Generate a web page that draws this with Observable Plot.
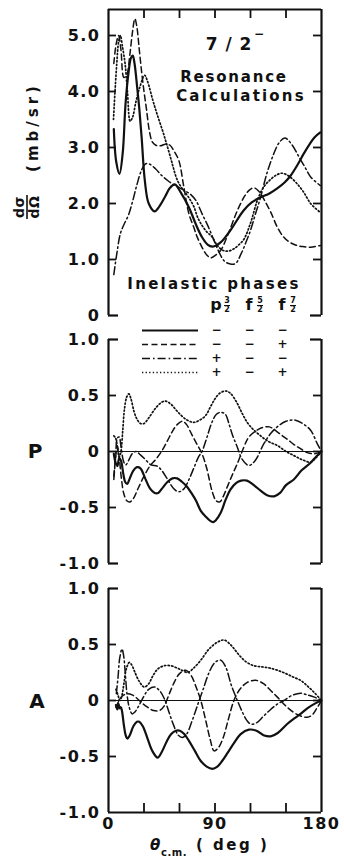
<!DOCTYPE html>
<html><head><meta charset="utf-8">
<script src="https://cdn.jsdelivr.net/npm/d3@7"></script>
<script src="https://cdn.jsdelivr.net/npm/@observablehq/plot@0.6"></script>
<style>
body{margin:0;background:#fff;}
#wrap{position:relative;width:344px;height:865px;overflow:hidden;background:#fff;}
#wrap svg{position:absolute;left:0;background:transparent;overflow:visible;}
</style></head><body><div id="wrap"></div>
<script>
// ---------- data ----------
const seriesNames = ["solid", "dashed", "dashdot", "dotted"];
const angleDomain = [0, 180];
const angleTicks = [0, 30, 60, 90, 120, 150, 180];
const angleLabels = [0, 90, 180];
const csTicks = [0, 1, 2, 3, 4, 5];
const csTop = 5.464;
const polTicks = [-1, -0.5, 0, 0.5, 1];

const titleLines = ["7 / 2", "Resonance", "Calculations"];
const titleSup = "−";
const yLabelNum = "dσ", yLabelDen = "dΩ", yLabelUnit = "(mb/sr)";
const pLabel = "P", aLabel = "A";
const xLabelMain = "θ", xLabelSub = "c.m.", xLabelUnit = "( deg )";
const legendTitle = "Inelastic phases";
const phaseLetters = ["p", "f", "f"];
const phaseNum = ["3", "5", "7"];
const phaseDen = ["2", "2", "2"];
const phaseCols = ["p3/2", "f5/2", "f7/2"];
const signP32 = ["−", "−", "+", "+"];
const signF52 = ["−", "−", "−", "−"];
const signF72 = ["−", "+", "−", "+"];

// Cross section dσ/dΩ (mb/sr) vs θc.m. (deg)
const csSolid = [[4.5,3.33],[6.5,2.75],[9.3,2.53],[12,2.9],[14.4,3.78],[17,4.35],[19,4.6],[20.5,4.64],[22,4.5],[24.2,4.08],[26,3.7],[28,3.18],[30.7,2.41],[34,2.0],[39,1.86],[43,1.95],[48,2.13],[52,2.28],[56,2.34],[61,2.2],[68,1.93],[74,1.62],[79,1.40],[84,1.26],[88,1.23],[95,1.31],[103,1.52],[114,1.87],[121,2.02],[128.5,2.11],[136,2.18],[142.6,2.27],[149,2.38],[154,2.5],[160,2.7],[165,2.89],[170,3.06],[174,3.18],[179,3.27]];
const csDashed = [[4.5,4.5],[6.5,4.85],[8.5,5.0],[10.5,4.75],[13,4.25],[15.5,4.3],[18,4.65],[20.2,5.05],[22.3,5.3],[24,5.15],[26,4.75],[28,4.35],[30,4.0],[32,3.7],[34.5,3.3],[37,3.1],[40,3.04],[44,3.03],[48,3.06],[52,3.04],[55,2.95],[59.4,2.77],[63.7,2.29],[67.9,1.82],[72,1.58],[75,1.40],[80,1.18],[83.5,1.07],[86.5,1.03],[90,1.07],[94.7,1.16],[101,1.45],[108.8,1.87],[115,2.13],[119,2.24],[122.8,2.28],[127,2.22],[132,2.05],[137,1.85],[142.6,1.58],[148,1.4],[153,1.31],[158,1.26],[164,1.23],[170.8,1.22],[179,1.25]];
const csDashDot = [[4.5,0.73],[7,1.1],[10,1.46],[13,1.62],[17,1.8],[20.5,2.05],[24.2,2.35],[28,2.6],[31.5,2.71],[35,2.7],[39.7,2.62],[45,2.5],[50,2.41],[54,2.35],[60,2.28],[66,2.21],[70,2.15],[74,2.05],[79,1.82],[84,1.6],[88,1.40],[93,1.15],[98,0.97],[103,0.92],[107.4,0.93],[112,1.1],[116,1.3],[120,1.52],[124,1.8],[128.5,2.11],[134,2.55],[139.7,2.89],[144,3.08],[149,3.17],[155,3.05],[161,2.83],[166,2.65],[171,2.47],[179,2.32]];
const csDotted = [[4.2,3.5],[5.5,4.0],[7,4.5],[8.5,4.88],[10,5.0],[11.8,4.8],[14,4.5],[16,4.0],[18.3,3.47],[20.5,3.55],[23,3.8],[26.5,4.08],[30.5,4.29],[33,4.18],[37.5,3.84],[41,3.6],[46,3.28],[50,3.0],[54,2.7],[57,2.48],[60,2.34],[64,2.22],[68,2.1],[72,1.95],[76,1.72],[82,1.52],[87.6,1.40],[92,1.25],[97,1.16],[101,1.15],[106,1.19],[110,1.26],[114.4,1.36],[120,1.65],[125.7,2.05],[131,2.29],[137,2.43],[142,2.51],[146.8,2.54],[153,2.48],[159.5,2.35],[165,2.2],[170.8,2.0],[179,1.84]];

// Polarization P
const pSolid = [[4.5,-0.02],[6,-0.1],[7.5,-0.13],[9,-0.06],[10.5,-0.08],[12.5,-0.2],[14,-0.27],[15.8,-0.29],[18,-0.24],[21,-0.17],[24,-0.14],[27,-0.15],[31,-0.24],[35,-0.33],[39,-0.37],[42,-0.37],[46,-0.32],[50,-0.27],[54,-0.24],[58,-0.24],[62,-0.27],[66,-0.31],[70,-0.37],[74,-0.44],[78,-0.53],[82,-0.58],[86,-0.62],[88.5,-0.63],[91,-0.61],[94.7,-0.55],[99,-0.43],[103,-0.34],[108,-0.28],[112,-0.26],[117,-0.26],[122.8,-0.3],[128.5,-0.35],[134,-0.39],[140,-0.4],[145,-0.37],[150,-0.3],[156.6,-0.25],[163,-0.17],[170.8,-0.1],[176,-0.04],[180,0]];
const pDashed = [[4.5,-0.22],[6,-0.05],[7.5,0.05],[9,-0.05],[11,-0.25],[13,-0.38],[15.5,-0.44],[18,-0.45],[21,-0.42],[25,-0.33],[30,-0.22],[35,-0.13],[40,-0.07],[45.4,0.01],[50,0.1],[54,0.18],[58,0.24],[62.5,0.27],[66,0.24],[70,0.16],[74,0.08],[79,-0.02],[83,-0.15],[87.7,-0.36],[91,-0.44],[94,-0.45],[97,-0.4],[101,-0.3],[105,-0.2],[108.8,-0.11],[114.4,0.04],[118,0.12],[122.8,0.17],[129,0.21],[136,0.22],[142,0.18],[147,0.14],[151,0.11],[157,0.06],[163,0.02],[168,-0.01],[174,-0.02],[180,0]];
const pDashDot = [[4.5,-0.25],[6,-0.05],[7.5,0.12],[9,0.13],[10.5,0.05],[12.5,-0.08],[14.5,-0.12],[17,-0.08],[20,-0.02],[23,0.0],[27,-0.03],[31,-0.07],[36,-0.12],[41,-0.13],[45,-0.17],[50,-0.25],[55,-0.33],[59.5,-0.36],[64,-0.33],[68,-0.25],[72,-0.15],[76,-0.05],[79,0.0],[83,0.12],[87,0.25],[91,0.33],[95,0.35],[98.9,0.33],[102,0.24],[105,0.14],[108.8,0.04],[113,-0.07],[118.6,-0.125],[124,-0.08],[131.3,0.07],[137,0.16],[142.6,0.22],[150,0.27],[158,0.28],[164,0.25],[170.8,0.19],[176.4,0.07],[180,0]];
const pDotted = [[4.5,0.14],[6,0.12],[7.5,0.04],[9,-0.05],[10.5,0.0],[12,0.18],[13.5,0.38],[15.5,0.49],[17.2,0.515],[19,0.47],[21.5,0.36],[24,0.29],[27,0.25],[30,0.25],[34,0.3],[40,0.39],[45,0.44],[48.2,0.45],[53,0.42],[58,0.36],[65,0.29],[72,0.26],[77,0.28],[82,0.32],[86.2,0.4],[90,0.47],[94,0.52],[98.9,0.54],[103,0.52],[108.8,0.43],[113,0.34],[117.2,0.26],[122,0.2],[128.5,0.14],[135,0.09],[142.6,0.054],[150,0.0],[156.6,-0.036],[163,-0.07],[170.8,-0.095],[175,-0.06],[180,0]];

// Analyzing power A
const aSolid = [[6.3,-0.04],[7.5,-0.08],[8.5,-0.03],[9.5,-0.07],[10.5,-0.06],[11.5,-0.1],[13,-0.22],[14.5,-0.31],[16,-0.34],[18,-0.31],[21,-0.23],[24,-0.19],[26,-0.19],[29,-0.23],[33,-0.34],[37,-0.45],[41.5,-0.51],[45,-0.46],[49,-0.37],[53,-0.3],[57,-0.27],[60.3,-0.27],[64,-0.3],[68,-0.36],[73,-0.45],[78,-0.54],[83,-0.59],[87.8,-0.61],[92,-0.59],[96,-0.54],[100.5,-0.47],[106,-0.38],[111.7,-0.3],[118.7,-0.26],[125,-0.27],[131,-0.31],[137,-0.32],[143,-0.29],[151,-0.21],[157,-0.16],[162.3,-0.12],[168,-0.07],[174,-0.03],[180,0]];
const aDashed = [[6.3,-0.06],[8,-0.02],[10,0.02],[13,0.05],[16,0.06],[20,0.05],[24,0.02],[28,-0.02],[33,-0.06],[38,-0.09],[43,-0.09],[47,-0.05],[51,0.05],[55,0.15],[60,0.24],[65.3,0.27],[70,0.22],[74,0.12],[78,0.0],[82,-0.17],[86,-0.35],[89.2,-0.45],[93,-0.42],[97,-0.33],[101,-0.18],[106,0.0],[111,0.1],[117,0.16],[124.4,0.18],[131,0.15],[137,0.09],[142.7,0.03],[150,-0.05],[157,-0.11],[163,-0.14],[168,-0.15],[172,-0.13],[176,-0.07],[180,0]];
const aDashDot = [[6.6,0.06],[8,0.2],[9.5,0.38],[11.4,0.46],[12.8,0.4],[14.2,0.24],[15.6,0.06],[17.5,-0.06],[20,-0.12],[22.5,-0.1],[26,-0.04],[30,0.04],[34,0.1],[39,0.12],[43,0.09],[47,0.02],[51,-0.1],[55,-0.22],[59,-0.31],[62.5,-0.33],[66,-0.3],[70,-0.2],[74,-0.08],[76.6,0.0],[80,0.1],[85,0.25],[90,0.34],[94.9,0.36],[99,0.3],[104,0.13],[108.9,0.0],[113,-0.1],[117,-0.18],[120.2,-0.21],[125,-0.2],[131,-0.14],[137,-0.08],[143,-0.03],[148.2,0.0],[155,0.045],[162.3,0.065],[168,0.05],[174,0.03],[180,0]];
const aDotted = [[6.3,0.1],[8,0.05],[9.5,0.0],[11,0.03],[13,0.15],[15,0.28],[17.6,0.34],[19.5,0.32],[22,0.26],[26,0.17],[30.2,0.12],[34,0.15],[37.5,0.22],[41.5,0.28],[47,0.31],[52.7,0.31],[58,0.29],[62,0.27],[66.8,0.25],[72,0.29],[78,0.36],[85,0.46],[92,0.52],[97.6,0.54],[103,0.5],[107,0.45],[111.7,0.39],[117,0.34],[123,0.31],[130,0.3],[136,0.29],[142.7,0.27],[150,0.24],[156,0.21],[162.3,0.18],[168,0.13],[174,0.07],[180,0]];

// ---------- layout / styles ----------
const W = 344, ML = 108, MR = 23;
const plotW = W - ML - MR;
const INK = "#111";
const FONT = "DejaVu Sans";
const lineStyles = {
  solid: {strokeWidth: 2.2},
  dashed: {strokeWidth: 1.5, strokeDasharray: "6,3.5"},
  dashdot: {strokeWidth: 1.5, strokeDasharray: "8,3,1.6,3"},
  dotted: {strokeWidth: 1.7, strokeDasharray: "1.3,2.3"}
};
const wrap = document.getElementById("wrap");

function curveMarks(map) {
  return seriesNames.map(n => Plot.line(map[n], {
    x: d => d[0], y: d => d[1], curve: "catmull-rom",
    stroke: INK, strokeLinejoin: "round", ...lineStyles[n]
  }));
}

function panel({top, height, mT, mB, yDomain, yTicks, yFmt, curves, zero, topFull, topTicks, bottomFull, bottomTicks, xAxis}) {
  const plotH = height - mT - mB;
  const marks = [];
  if (zero) marks.push(Plot.ruleY([0], {stroke: INK, strokeWidth: 1}));
  marks.push(...curves);
  marks.push(Plot.ruleX(angleDomain, {stroke: INK, strokeWidth: 2.2}));
  const innerY = yTicks.filter(t => t > yDomain[0] && t < yDomain[1]);
  marks.push(Plot.ruleY(innerY, {stroke: INK, strokeWidth: 1.8, insetRight: plotW - 8}));
  marks.push(Plot.ruleY(innerY, {stroke: INK, strokeWidth: 1.8, insetLeft: plotW - 8}));
  const innerX = angleTicks.filter(t => t > angleDomain[0] && t < angleDomain[1]);
  if (topFull) marks.push(Plot.ruleY([yDomain[1]], {stroke: INK, strokeWidth: 2.2}));
  else {
    marks.push(Plot.ruleY([yDomain[1]], {stroke: INK, strokeWidth: 2.2, insetRight: plotW - 10}));
    marks.push(Plot.ruleY([yDomain[1]], {stroke: INK, strokeWidth: 2.2, insetLeft: plotW - 11}));
  }
  if (topTicks) marks.push(Plot.ruleX(innerX, {stroke: INK, strokeWidth: 1.8, insetBottom: plotH - 9}));
  if (bottomFull) marks.push(Plot.ruleY([yDomain[0]], {stroke: INK, strokeWidth: 2.2}));
  else {
    marks.push(Plot.ruleY([yDomain[0]], {stroke: INK, strokeWidth: 2.2, insetRight: plotW - 10}));
    marks.push(Plot.ruleY([yDomain[0]], {stroke: INK, strokeWidth: 2.2, insetLeft: plotW - 11}));
  }
  if (bottomTicks) marks.push(Plot.ruleX(innerX, {stroke: INK, strokeWidth: 1.8, insetTop: plotH - 9}));
  const svg = Plot.plot({
    width: W, height, marginLeft: ML, marginRight: MR, marginTop: mT, marginBottom: mB,
    style: {fontFamily: FONT, fontSize: "16px", fontWeight: "bold", letterSpacing: "1.5px", background: "transparent", overflow: "visible", color: INK},
    x: xAxis ? {domain: angleDomain, ticks: angleLabels, tickSize: 0, tickPadding: 5, tickFormat: d => String(d), label: null}
             : {domain: angleDomain, axis: null},
    y: {domain: yDomain, ticks: yTicks, tickSize: 0, tickPadding: 8, tickFormat: yFmt, label: null},
    marks
  });
  svg.style.top = top + "px";
  wrap.appendChild(svg);
  return svg;
}

const fmt = d => d === 0 ? "0" : d.toFixed(1);

const p1 = panel({top: 0, height: 320, mT: 9, mB: 5, yDomain: [0, csTop], yTicks: csTicks, yFmt: fmt,
  curves: curveMarks({solid: csSolid, dashed: csDashed, dashdot: csDashDot, dotted: csDotted}),
  zero: false, topFull: true, topTicks: true, bottomFull: false, bottomTicks: false, xAxis: false});
const p2 = panel({top: 325, height: 243, mT: 14, mB: 5, yDomain: [-1, 1], yTicks: polTicks, yFmt: fmt,
  curves: curveMarks({solid: pSolid, dashed: pDashed, dashdot: pDashDot, dotted: pDotted}),
  zero: true, topFull: false, topTicks: false, bottomFull: false, bottomTicks: false, xAxis: false});
const p3 = panel({top: 575, height: 290, mT: 13, mB: 53, yDomain: [-1, 1], yTicks: polTicks, yFmt: fmt,
  curves: curveMarks({solid: aSolid, dashed: aDashed, dashdot: aDashDot, dotted: aDotted}),
  zero: true, topFull: false, topTicks: false, bottomFull: true, bottomTicks: true, xAxis: true});

// ---------- annotations ----------
function txt(sel, x, y, s, o = {}) {
  const t = sel.append("text").attr("x", x).attr("y", y).text(s)
    .attr("font-family", FONT).attr("font-weight", o.weight || "bold")
    .attr("font-size", o.size || 15).attr("fill", INK)
    .attr("text-anchor", o.anchor || "middle")
    .attr("letter-spacing", o.ls != null ? o.ls : 0);
  if (o.style) t.attr("font-style", o.style);
  return t;
}
const s1 = d3.select(p1);
txt(s1, 229, 50, titleLines[0], {size: 17, ls: 1});
txt(s1, 259, 38, titleSup, {size: 12});
txt(s1, 234, 82, titleLines[1], {size: 15, ls: 1.8});
txt(s1, 241, 101, titleLines[2], {size: 15, ls: 2.2});
const g = s1.append("g").attr("transform", "rotate(-90)");
txt(g, -207, 24, yLabelNum, {size: 14, ls: 0.5});
g.append("line").attr("x1", -219).attr("x2", -195).attr("y1", 27).attr("y2", 27).attr("stroke", INK).attr("stroke-width", 1.6);
txt(g, -207, 39, yLabelDen, {size: 14, ls: 0.5});
txt(g, -127, 38, yLabelUnit, {size: 15, ls: 4});

txt(d3.select(p2), 35, 451 - 325 + 7, pLabel, {size: 20});
txt(d3.select(p3), 37, 701 - 575 + 7, aLabel, {size: 20});
const s3 = d3.select(p3);
txt(s3, 150, 850 - 575, xLabelMain, {size: 15, anchor: "start", style: "italic"});
txt(s3, 161, 856 - 575, xLabelSub, {size: 10, anchor: "start", ls: 0.5});
txt(s3, 196, 850 - 575, xLabelUnit, {size: 15, anchor: "start", ls: 2.5});

// ---------- legend ----------
const legendTop = 270;
const signData = [];
seriesNames.forEach((n, i) => {
  signData.push({name: n, col: phaseCols[0], sign: signP32[i]});
  signData.push({name: n, col: phaseCols[1], sign: signF52[i]});
  signData.push({name: n, col: phaseCols[2], sign: signF72[i]});
});
const legendMarks = seriesNames.map(n => Plot.tickY([n], {
  y: d => d, stroke: INK, insetLeft: 142, insetRight: W - 198, ...lineStyles[n]
}));
legendMarks.push(Plot.text(signData, {x: "col", y: "name", text: "sign", fontSize: 12, fontWeight: "bold", fill: INK}));
const leg = Plot.plot({
  width: W, height: 112, marginLeft: 0, marginRight: 0, marginTop: 0, marginBottom: 0,
  style: {fontFamily: FONT, background: "transparent", overflow: "visible", color: INK},
  x: {type: "point", domain: phaseCols, range: [215, 282], padding: 0, align: 0.5, axis: null},
  y: {type: "point", domain: seriesNames, range: [60, 102], padding: 0, align: 0.5, axis: null},
  marks: legendMarks
});
leg.style.top = legendTop + "px";
wrap.appendChild(leg);
const sl = d3.select(leg);
txt(sl, 214, 289 - legendTop, legendTitle, {size: 15, ls: 2.3});
const xs = leg.scale("x");
phaseCols.forEach((c, i) => {
  const cx = xs.apply(c);
  txt(sl, cx, 310 - legendTop, phaseLetters[i], {size: 16});
  txt(sl, cx + 11, 303 - legendTop, phaseNum[i], {size: 8});
  sl.append("line").attr("x1", cx + 8).attr("x2", cx + 14).attr("y1", 305.5 - legendTop).attr("y2", 305.5 - legendTop).attr("stroke", INK).attr("stroke-width", 1);
  txt(sl, cx + 11, 312 - legendTop, phaseDen[i], {size: 8});
});
</script></body></html>
